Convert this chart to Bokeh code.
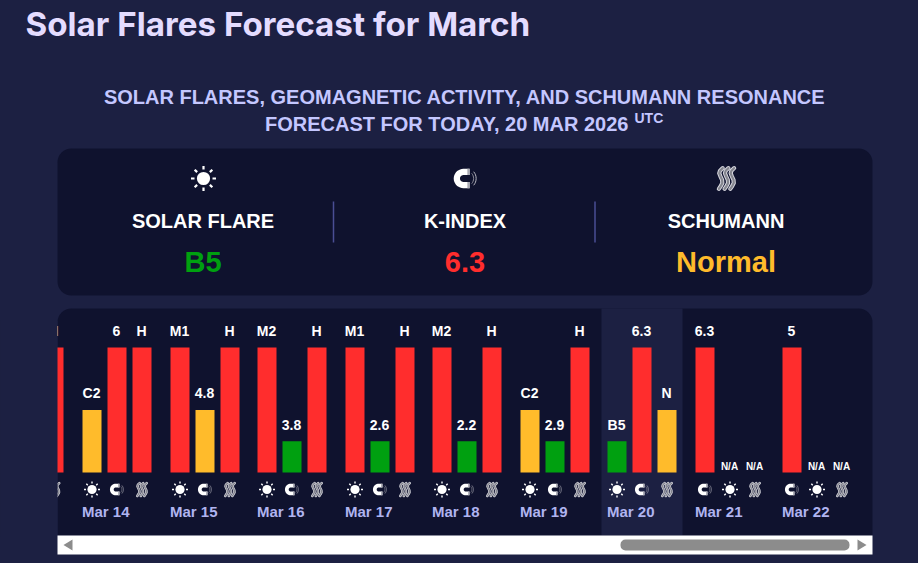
import math
from bokeh.plotting import figure
from bokeh.models import Range1d, ColumnDataSource
from bokeh.core.properties import value
from bokeh.embed import file_html
from bokeh.resources import INLINE

# ---------- data ----------
dates = ["Mar 14", "Mar 15", "Mar 16", "Mar 17", "Mar 18", "Mar 19", "Mar 20", "Mar 21", "Mar 22"]
slot1_kind = ["flare", "flare", "flare", "flare", "flare", "flare", "flare", "k", "k"]
slot2_kind = ["k", "k", "k", "k", "k", "k", "k", "flare", "flare"]
slot1_labels = ["C2", "M1", "M2", "M1", "M2", "C2", "B5", "6.3", "5"]
slot1_levels = [2, 4, 4, 4, 4, 2, 1, 4, 4]
slot2_labels = ["6", "4.8", "3.8", "2.6", "2.2", "2.9", "6.3", "N/A", "N/A"]
slot2_levels = [4, 2, 1, 1, 1, 1, 4, 0, 0]
slot3_labels = ["H", "H", "H", "H", "H", "H", "N", "N/A", "N/A"]
slot3_levels = [4, 4, 4, 4, 4, 4, 2, 0, 0]
prev_day_label = "H"
prev_day_level = 4
today = "Mar 20"
summary_names = ["SOLAR FLARE", "K-INDEX", "SCHUMANN"]
summary_values = ["B5", "6.3", "Normal"]
summary_levels = [1, 4, 2]

# ---------- style ----------
PAGE = "#1c2042"
PANEL = "#0f122e"
COL = {1: "#00a010", 2: "#ffbb2b", 4: "#ff2d2d"}
BOLD_SANS = "Liberation Sans"
W, H = 918, 563
BASE_K = 0.4  # the svg text baseline sits this fraction of the size below the anchor

p = figure(width=W, height=H, output_backend="svg", toolbar_location=None,
           x_range=Range1d(0, W), y_range=Range1d(H, 0),
           min_border=0, background_fill_color=PAGE, border_fill_color=PAGE,
           outline_line_color=None)
p.axis.visible = False
p.grid.visible = False
BASE_Y, PX_PER_LEVEL = 472, 31.25
p.extra_y_ranges = {"level": Range1d((BASE_Y - H) / PX_PER_LEVEL, BASE_Y / PX_PER_LEVEL)}


def txt(x, y, s, size, color, font=BOLD_SANS, style="bold", align="center"):
    p.text([x], [y - BASE_K * size], text=[s], text_font=value(font), text_font_style=style,
           text_font_size=f"{size}px", text_color=color, text_align=align, text_baseline="alphabetic")


def sun(cx, cy, r, ray0, ray1, w):
    p.circle([cx], [cy], radius=r, fill_color="white", line_color=None)
    a = [i * math.pi / 4 for i in range(8)]
    p.segment([cx + ray0 * math.cos(t) for t in a], [cy + ray0 * math.sin(t) for t in a],
              [cx + ray1 * math.cos(t) for t in a], [cy + ray1 * math.sin(t) for t in a],
              line_color="white", line_width=w)


def magnet(cx, cy, s):
    # C-shaped magnet open to the right, grey poles, field arcs on the right
    pts = [i * math.pi / 18 for i in range(9, 28)]
    ox = cx - 1.5 * s
    outer, inner = 6.8 * s, 2.4 * s
    arm = ox + 4.4 * s
    xs = [arm] + [ox + outer * math.cos(t) for t in pts] + [arm, arm] + [ox + inner * math.cos(t) for t in reversed(pts)] + [arm]
    ys = [cy + outer] + [cy + outer * math.sin(t) for t in pts] + [cy - outer, cy - inner] + [cy + inner * math.sin(t) for t in reversed(pts)] + [cy + inner]
    p.patch(xs, ys, fill_color="white", line_color=None)
    p.quad(left=[ox + 2.8 * s, ox + 2.8 * s], right=[arm, arm],
           top=[cy - outer, cy + inner], bottom=[cy - inner, cy + outer],
           fill_color="#a8a8b2", line_color=None)
    for rr, col in ((5.6, "#8d8d98"), (7.4, "#b5b5be")):
        q = [i * math.pi / 18 for i in range(-4, 5)]
        p.line([ox + 1.6 * s + rr * s * math.cos(t) for t in q], [cy + rr * s * math.sin(t) for t in q],
               line_color=col, line_width=0.7 * s)


def waves(cx, cy, s):
    # three wavy strands
    shape = [(1.5, -8), (-0.6, -6), (-1.2, -4), (-0.2, -1.5), (1.0, 1), (1.2, 3.5), (-0.1, 6), (-1.5, 8)]
    for off in (-4.4, 0, 4.4):
        xs = [cx + (off + a) * s for a, b in shape]
        ys = [cy + b * s for a, b in shape]
        p.line(xs, ys, line_color="#d8d8e0", line_width=3.2 * s, line_cap="round", line_join="round")
        p.line(xs, ys, line_color="#85868f", line_width=1.7 * s, line_cap="round", line_join="round")


# ---------- headings ----------
txt(25, 37, "Solar Flares Forecast for March", 33.2, "#e4dcff", font="Inter", style="bold", align="left")
txt(464.5, 104, "SOLAR FLARES, GEOMAGNETIC ACTIVITY, AND SCHUMANN RESONANCE", 20, "#c4c7ff")
txt(264.5, 131, "FORECAST FOR TODAY, 20 MAR 2026", 20, "#c4c7ff", align="left")
txt(634, 123, "UTC", 14, "#c4c7ff", align="left")

# ---------- summary panel ----------
p.quad(left=[57], right=[872], top=[148], bottom=[295], fill_color=PANEL, line_color=None, border_radius=14)
centers = [202.5, 464.5, 725.5]
for cx, name, val, lev in zip(centers, summary_names, summary_values, summary_levels):
    txt(cx, 228.5, name, 20, "white")
    txt(cx, 273.5, val, 29, COL[lev])
sun(203, 178, 6.6, 9, 12.5, 2.2)
magnet(465, 178, 1.42)
waves(726, 178, 1.3)
p.segment([333, 594.5], [201, 201], [333, 594.5], [242, 242], line_color="#4a4e94", line_width=1.5)

# ---------- forecast panel ----------
p.quad(left=[57], right=[872], top=[308], bottom=[535], fill_color=PANEL, line_color=None,
       border_radius=dict(top_left=14, top_right=14, bottom_right=0, bottom_left=0))
DAY0, DAY_STEP, BAR_STEP, BAR_W = 82, 87.5, 25, 19
lefts = [math.ceil(DAY0 + i * DAY_STEP) for i in range(len(dates))]
idx = dates.index(today)
p.quad(left=[lefts[idx] - 6], right=[lefts[idx] + 75], top=[308], bottom=[535], fill_color=PAGE, line_color=None)

xs, tops, colors, lab_x, lab_y, lab_t = [], [], [], [], [], []
na_x, na_t = [], []
all_slots = []
prev_left = DAY0 - DAY_STEP
all_slots.append((math.floor(prev_left) + 2 * BAR_STEP, prev_day_label, prev_day_level))
for i, left in enumerate(lefts):
    all_slots.append((left, slot1_labels[i], slot1_levels[i]))
    all_slots.append((left + BAR_STEP, slot2_labels[i], slot2_levels[i]))
    all_slots.append((left + 2 * BAR_STEP, slot3_labels[i], slot3_levels[i]))
for x0, lab, lev in all_slots:
    cx = x0 + BAR_W / 2
    if lev > 0:
        xs.append(cx)
        tops.append(lev)
        colors.append(COL[lev])
        lab_x.append(cx - 0.5)
        lab_y.append(BASE_Y - lev * PX_PER_LEVEL - 11 - BASE_K * 14)
        lab_t.append(lab)
    else:
        na_x.append(cx - 0.5)
        na_t.append(lab)
p.vbar(x="x", top="top", bottom=0, width=BAR_W, color="color", line_color=None, y_range_name="level",
       source=ColumnDataSource(dict(x=xs, top=tops, color=colors)))
p.text(x=lab_x, y=lab_y, text=lab_t, text_font=value(BOLD_SANS), text_font_style="bold", text_font_size="14px",
       text_color="white", text_align="center", text_baseline="alphabetic")
p.text(x=na_x, y=[470 - BASE_K * 10] * len(na_x), text=na_t, text_font=value(BOLD_SANS), text_font_style="bold",
       text_font_size="10px", text_color="white", text_align="center", text_baseline="alphabetic")

ICON_Y = 489
waves(prev_left + 2 * BAR_STEP + BAR_W / 2, ICON_Y, 0.8)
for i, left in enumerate(lefts):
    c0, c1, c2 = left + BAR_W / 2, left + BAR_STEP + BAR_W / 2, left + 2 * BAR_STEP + BAR_W / 2
    if slot1_kind[i] == "flare":
        sun(c0, ICON_Y, 4.6, 6, 8, 1.4)
        magnet(c1, ICON_Y, 0.85)
    else:
        magnet(c0, ICON_Y, 0.85)
        sun(c1, ICON_Y, 4.6, 6, 8, 1.4)
    waves(c2, ICON_Y, 0.8)
    txt(left - 0.5, 517, dates[i], 15, "#b0b4f0", align="left")

# clip of the scrolled content at the panel's left edge
p.quad(left=[0], right=[57], top=[320], bottom=[536], fill_color=PAGE, line_color=None)

# ---------- scrollbar ----------
p.quad(left=[57], right=[872], top=[535], bottom=[554], fill_color="white", line_color=None)
p.quad(left=[620], right=[849], top=[539], bottom=[550], fill_color="#8c8c8c", line_color=None, border_radius=5)
p.patch([72, 63, 72], [539, 544.5, 550], fill_color="#8c8c8c", line_color=None)
p.patch([857, 866, 857], [539, 544.5, 550], fill_color="#8c8c8c", line_color=None)

html = file_html(p, INLINE)
html = html.replace("<head>", f"<head><style>html,body{{background:{PAGE};margin:0;padding:0;overflow:hidden}}</style>", 1)
open("out.html", "w").write(html)
